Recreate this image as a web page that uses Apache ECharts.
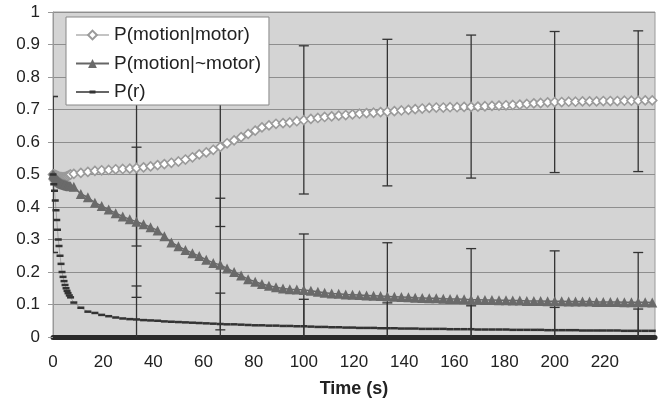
<!DOCTYPE html>
<html>
<head>
<meta charset="utf-8">
<script src="https://cdn.jsdelivr.net/npm/echarts@6/dist/echarts.min.js"></script>
<style>html,body{margin:0;padding:0;background:#fff}#c{width:660px;height:403px}</style>
</head>
<body>
<div id="c"></div>
<script>
// Time samples (s)
var times = [
  0, 0.3, 0.6, 0.9, 1.2, 1.5, 1.8, 2.1, 2.4, 2.8,
  3.2, 3.6, 4.0, 4.4, 4.8, 5.2, 5.6, 6.0, 6.5, 7.0,
  8.3, 11.1, 13.9, 16.7, 19.4, 22.2, 25, 27.8, 30.6, 33.3,
  36.1, 38.9, 41.7, 44.4, 47.2, 50, 52.8, 55.6, 58.3, 61.1,
  63.9, 66.7, 69.4, 72.2, 75, 77.8, 80.6, 83.3, 86.1, 88.9,
  91.7, 94.4, 97.2, 100, 102.8, 105.6, 108.3, 111.1, 113.9, 116.7,
  119.4, 122.2, 125, 127.8, 130.6, 133.3, 136.1, 138.9, 141.7, 144.4,
  147.2, 150, 152.8, 155.6, 158.3, 161.1, 163.9, 166.7, 169.4, 172.2,
  175, 177.8, 180.6, 183.3, 186.1, 188.9, 191.7, 194.4, 197.2, 200,
  202.8, 205.6, 208.3, 211.1, 213.9, 216.7, 219.4, 222.2, 225, 227.8,
  230.6, 233.3, 236.1, 238.9
];
var pMotor = [
  0.5, 0.5, 0.499, 0.498, 0.497, 0.496, 0.495, 0.494, 0.493, 0.492,
  0.492, 0.491, 0.491, 0.491, 0.492, 0.493, 0.494, 0.496, 0.498, 0.5,
  0.502, 0.505, 0.508, 0.511, 0.513, 0.514, 0.516, 0.517, 0.518, 0.52,
  0.522, 0.525, 0.529, 0.532, 0.536, 0.54, 0.546, 0.553, 0.562, 0.568,
  0.576, 0.585, 0.596, 0.605, 0.615, 0.625, 0.635, 0.645, 0.651, 0.656,
  0.658, 0.66, 0.664, 0.667, 0.671, 0.674, 0.677, 0.679, 0.681, 0.683,
  0.685, 0.687, 0.689, 0.69, 0.692, 0.693, 0.695, 0.697, 0.699, 0.701,
  0.703, 0.705, 0.706, 0.706, 0.707, 0.707, 0.708, 0.708, 0.709, 0.71,
  0.711, 0.712, 0.713, 0.714, 0.715, 0.717, 0.719, 0.72, 0.722, 0.723,
  0.723, 0.724, 0.724, 0.725, 0.725, 0.725, 0.726, 0.726, 0.726, 0.727,
  0.727, 0.727, 0.728, 0.728
];
var pNotMotor = [
  0.5, 0.497, 0.494, 0.491, 0.488, 0.485, 0.482, 0.48, 0.478, 0.476,
  0.474, 0.472, 0.471, 0.47, 0.469, 0.468, 0.467, 0.466, 0.465, 0.464,
  0.462, 0.44, 0.43, 0.413, 0.403, 0.392, 0.381, 0.371, 0.362, 0.355,
  0.347, 0.338, 0.328, 0.31, 0.291, 0.279, 0.268, 0.258, 0.249, 0.238,
  0.228, 0.222, 0.211, 0.2, 0.189, 0.178, 0.17, 0.163, 0.158, 0.153,
  0.149, 0.147, 0.146, 0.145, 0.142, 0.139, 0.136, 0.134, 0.133, 0.131,
  0.13, 0.129, 0.128, 0.127, 0.126, 0.125, 0.124, 0.123, 0.122, 0.121,
  0.12, 0.119, 0.119, 0.118, 0.117, 0.117, 0.116, 0.115, 0.115, 0.114,
  0.114, 0.113, 0.113, 0.112, 0.112, 0.111, 0.111, 0.111, 0.11, 0.11,
  0.11, 0.109, 0.109, 0.109, 0.109, 0.108, 0.108, 0.108, 0.108, 0.107,
  0.107, 0.107, 0.107, 0.106
];
var pR = [
  0.5, 0.47, 0.45, 0.42, 0.39, 0.36, 0.33, 0.3, 0.28, 0.25,
  0.225, 0.2, 0.185, 0.172, 0.16, 0.15, 0.142, 0.135, 0.128, 0.122,
  0.106, 0.09, 0.078, 0.074, 0.068, 0.064, 0.06, 0.057, 0.055, 0.054,
  0.052, 0.051, 0.05, 0.048, 0.047, 0.046, 0.045, 0.044, 0.043, 0.042,
  0.041, 0.04, 0.039, 0.039, 0.038, 0.037, 0.036, 0.036, 0.035, 0.035,
  0.034, 0.034, 0.033, 0.033, 0.032, 0.031, 0.031, 0.03, 0.03, 0.029,
  0.029, 0.028, 0.028, 0.028, 0.027, 0.027, 0.027, 0.026, 0.026, 0.026,
  0.025, 0.025, 0.025, 0.025, 0.024, 0.024, 0.024, 0.024, 0.023, 0.023,
  0.023, 0.023, 0.023, 0.022, 0.022, 0.022, 0.022, 0.022, 0.021, 0.021,
  0.021, 0.021, 0.021, 0.02, 0.02, 0.02, 0.02, 0.02, 0.02, 0.019,
  0.019, 0.019, 0.019, 0.019
];
// Error bars: [time, low, high]
var errMotor = [
  [0, 0.26, 0.74], [33.3, 0.28, 0.76], [66.7, 0.34, 0.82], [100, 0.44, 0.896],
  [133.3, 0.465, 0.916], [166.7, 0.489, 0.929], [200, 0.506, 0.94], [233.3, 0.509, 0.942]
];
var errNotMotor = [
  [0, 0.26, 0.74], [33.3, 0.122, 0.584], [66.7, 0.022, 0.427], [100, -0.03, 0.317],
  [133.3, -0.04, 0.29], [166.7, -0.04, 0.272], [200, -0.05, 0.265], [233.3, -0.05, 0.26]
];
var errR = [
  [33.3, -0.05, 0.157], [66.7, -0.06, 0.135], [100, -0.05, 0.116],
  [133.3, -0.06, 0.105], [166.7, -0.05, 0.096], [200, -0.05, 0.091], [233.3, -0.05, 0.086]
];
var seriesNames = ['P(motion|motor)', 'P(motion|~motor)', 'P(r)'];

function pairs(vals) { return times.map(function (t, i) { return [t, vals[i]]; }); }

function errSeries(data) {
  return {
    type: 'custom', clip: true, z: 2, silent: true,
    data: data, encode: { x: 0, y: [1, 2] },
    renderItem: function (params, api) {
      var x = api.value(0), lo = api.value(1), hi = api.value(2);
      var a = api.coord([x, lo]), b = api.coord([x, hi]);
      var w = 5, st = { stroke: '#333', lineWidth: 1.3 };
      return { type: 'group', children: [
        { type: 'line', shape: { x1: a[0], y1: a[1], x2: b[0], y2: b[1] }, style: st },
        { type: 'line', shape: { x1: a[0] - w, y1: a[1], x2: a[0] + w, y2: a[1] }, style: st },
        { type: 'line', shape: { x1: b[0] - w, y1: b[1], x2: b[0] + w, y2: b[1] }, style: st }
      ]};
    }
  };
}

var chart = echarts.init(document.getElementById('c'));
chart.setOption({
  animation: false,
  textStyle: { fontFamily: 'Liberation Sans, Arial, sans-serif' },
  grid: { left: 53, right: 5, top: 12, bottom: 66, show: true, backgroundColor: '#d4d4d4', borderColor: '#9a9a9a', borderWidth: 1 },
  legend: {
    data: [
      { name: seriesNames[0] },
      { name: seriesNames[1] },
      { name: seriesNames[2], icon: 'path://M0,4.3h33v1.4h-33z M13.5,3.5h6v3h-6z', itemStyle: { color: '#333' } }
    ],
    orient: 'vertical', left: 66, top: 17, z: 10,
    backgroundColor: '#fff', borderColor: '#888', borderWidth: 1,
    padding: [8, 8, 3, 9], itemWidth: 33, itemHeight: 11, itemGap: 8.5,
    textStyle: { fontSize: 19, color: '#222', lineHeight: 20 }
  },
  xAxis: {
    type: 'value', min: 0, max: 240, interval: 20,
    name: 'Time (s)', nameLocation: 'middle', nameGap: 38,
    nameTextStyle: { fontSize: 18, fontWeight: 'bold', color: '#222' },
    offset: 5,
    axisLine: { lineStyle: { color: '#2a2a2a', width: 5 } },
    axisTick: { show: false },
    axisLabel: { fontSize: 17, color: '#222', margin: 12, showMaxLabel: false,
      formatter: function (v) { return v === 240 ? '' : String(v); } },
    splitLine: { show: false }
  },
  yAxis: {
    type: 'value', min: 0, max: 1, interval: 0.1,
    axisLine: { show: true, lineStyle: { color: '#999', width: 1 } },
    axisTick: { show: true, length: 5, lineStyle: { color: '#999' } },
    axisLabel: { fontSize: 17, color: '#222', margin: 13 },
    splitLine: { lineStyle: { color: '#8e8e8e', width: 1 } }
  },
  series: [
    { name: seriesNames[0], type: 'line', data: pairs(pMotor), z: 3,
      symbol: 'diamond', symbolSize: 9, showAllSymbol: true,
      lineStyle: { color: '#c4c4c4', width: 1 },
      itemStyle: { color: '#fff', borderColor: '#9a9a9a', borderWidth: 1.6 } },
    { name: seriesNames[1], type: 'line', data: pairs(pNotMotor), z: 3,
      symbol: 'triangle', symbolSize: 10, showAllSymbol: true,
      lineStyle: { color: '#666', width: 1.5 },
      itemStyle: { color: '#6a6a6a', borderColor: '#6a6a6a', borderWidth: 0 } },
    { name: seriesNames[2], type: 'line', data: pairs(pR), z: 3,
      symbol: 'rect', symbolSize: [7, 2.5], showAllSymbol: true,
      lineStyle: { color: '#777', width: 0.5 },
      itemStyle: { color: '#333' } },
    errSeries(errMotor), errSeries(errNotMotor), errSeries(errR)
  ]
});
</script>
</body>
</html>
